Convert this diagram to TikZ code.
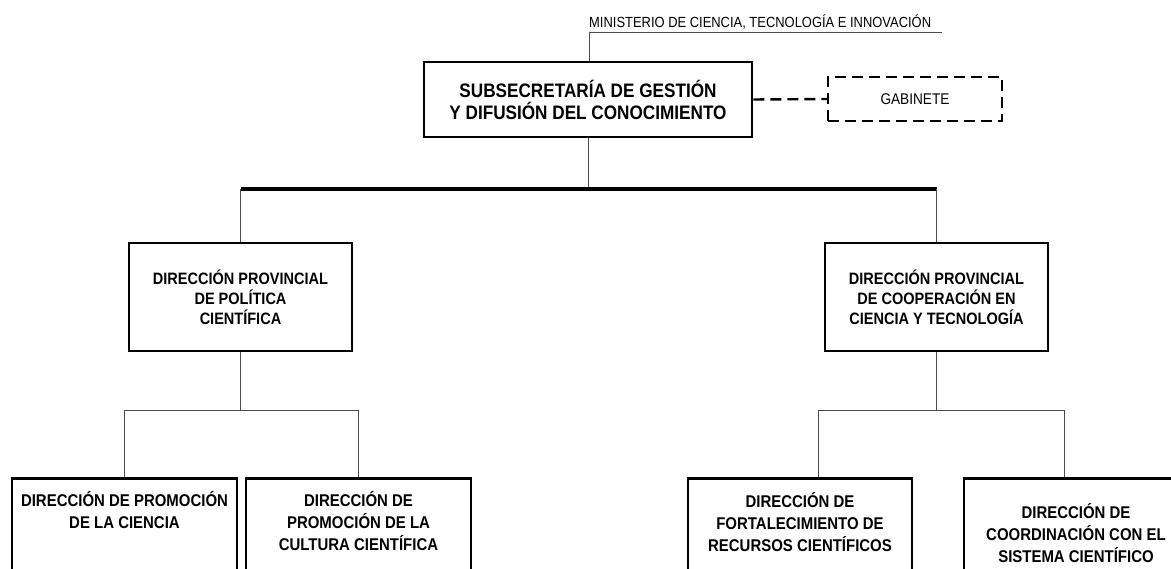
\documentclass[tikz,border=0pt]{standalone}
\usepackage{fontspec}
\setmainfont{Liberation Sans}[FakeStretch=0.88]
\usetikzlibrary{positioning}

\begin{document}
\begin{tikzpicture}[x=1pt, y=-1pt,
    caixa/.style={draw, line width=2.6pt, align=center, inner sep=0pt},
    texto/.style={align=center, inner sep=0pt},
    ligacao/.style={draw=black!70, line width=0.9pt},
    tracejado/.style={line width=2.4pt, dash pattern=on 11pt off 6pt},
    fonteA/.style={font=\bfseries\fontsize{19.5}{22}\selectfont},
    fonteB/.style={font=\bfseries\fontsize{16.5}{20}\selectfont},
    fonteC/.style={font=\bfseries\fontsize{17}{22}\selectfont}]
        \useasboundingbox (0,0) rectangle (1171,569);
        \clip (0,0) rectangle (1171,569);

        % Ministerio
        \node[anchor=base west, inner sep=0pt, font=\fontsize{14.7}{17}\selectfont] (mini) at (589,28) {MINISTERIO DE CIENCIA, TECNOLOGÍA E INNOVACIÓN};
        \coordinate (m0) at (589,32);
        \coordinate (m1) at (942,32);

        % Subsecretaria e gabinete
        \node[caixa, fonteA, minimum width=328, minimum height=75] (subsec) at (588,99.5) {SUBSECRETARÍA DE GESTIÓN\\Y DIFUSIÓN DEL CONOCIMIENTO};
        \node[caixa, tracejado, font=\fontsize{15.5}{18}\selectfont, minimum width=174, minimum height=44] (gab) at (915,99) {GABINETE};

        % Direcoes provinciais
        \node[caixa, fonteB, minimum width=223, minimum height=108] (prov1) at (240.5,297) {DIRECCIÓN PROVINCIAL\\DE POLÍTICA\\CIENTÍFICA};
        \node[caixa, fonteB, minimum width=223, minimum height=108] (prov2) at (936.5,297) {DIRECCIÓN PROVINCIAL\\DE COOPERACIÓN EN\\CIENCIA Y TECNOLOGÍA};

        % Direcoes (cortadas embaixo)
        \node[caixa, anchor=north, minimum width=225, minimum height=140] (dir1) at (124.5,477) {};
        \node[caixa, anchor=north, minimum width=225, minimum height=140] (dir2) at (358.5,477) {};
        \node[caixa, anchor=north, minimum width=224, minimum height=140] (dir3) at (800,477) {};
        \node[caixa, anchor=north, minimum width=224, minimum height=140] (dir4) at (1076,477) {};
        \node[texto, fonteC, below=14pt of dir1.north] (txt1) {DIRECCIÓN DE PROMOCIÓN\\DE LA CIENCIA};
        \node[texto, fonteC, below=14pt of dir2.north] (txt2) {DIRECCIÓN DE\\PROMOCIÓN DE LA\\CULTURA CIENTÍFICA};
        \node[texto, fonteC, below=15pt of dir3.north] (txt3) {DIRECCIÓN DE\\FORTALECIMIENTO DE\\RECURSOS CIENTÍFICOS};
        \node[texto, fonteC, below=26pt of dir4.north] (txt4) {DIRECCIÓN DE\\COORDINACIÓN CON EL\\SISTEMA CIENTÍFICO};

        \coordinate (barra) at (588,189);
        \coordinate (esq) at (240.5,410);
        \coordinate (dr1) at (818,410);
        \coordinate (dr2) at (1064,410);

        % Linhas
        \draw[ligacao] (m0) -- (m1);
        \draw[ligacao] (m0) -- (m0 |- subsec.north);
        \draw[tracejado] (subsec.east) -- (gab.west);
        \draw[ligacao] (subsec.south) -- (barra);
        \draw[black, line width=3.4pt] (prov1.north |- barra) -- (prov2.north |- barra);
        \draw[ligacao] (prov1.north |- barra) -- (prov1.north);
        \draw[ligacao] (prov2.north |- barra) -- (prov2.north);
        \draw[ligacao] (prov1.south) -- (esq);
        \draw[ligacao] (dir1.north |- esq) -- (dir2.north |- esq);
        \draw[ligacao] (dir1.north |- esq) -- (dir1.north);
        \draw[ligacao] (dir2.north |- esq) -- (dir2.north);
        \draw[ligacao] (prov2.south) -- (prov2.south |- dr1);
        \draw[ligacao] (dr1) -- (dr2);
        \draw[ligacao] (dr1) -- (dr1 |- dir3.north);
        \draw[ligacao] (dr2) -- (dr2 |- dir4.north);
    \end{tikzpicture}
\end{document}
